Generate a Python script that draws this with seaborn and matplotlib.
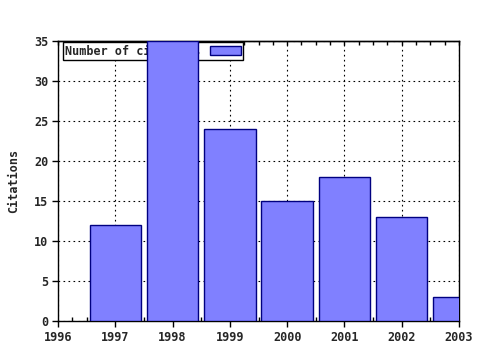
import matplotlib
matplotlib.use("Agg")
import matplotlib.pyplot as plt
import seaborn as sns
import pandas as pd
from matplotlib.ticker import MultipleLocator

years = [1997, 1998, 1999, 2000, 2001, 2002, 2003]
citations = [12, 35, 24, 15, 18, 13, 3]
series_label = "Number of citations"
xticks = [1996, 1997, 1998, 1999, 2000, 2001, 2002, 2003]
yticks = [0, 5, 10, 15, 20, 25, 30, 35]

sns.set_style("white")
plt.rcParams["font.family"] = ["DejaVu Sans Mono", "DejaVu Sans"]
plt.rcParams["font.weight"] = "bold"

df = pd.DataFrame({"year": years, "citations": citations})

fig = plt.figure(figsize=(4.8, 3.5), dpi=100)
ax = fig.add_axes([58 / 480, 1 - 321 / 350, (459 - 58) / 480, (321 - 41) / 350])

sns.barplot(data=df, x="year", y="citations", native_scale=True, width=0.9,
            color="#8080ff", edgecolor="#000080", linewidth=1, saturation=1,
            label=series_label, ax=ax)
for p in ax.patches:
    p.set_zorder(3)
    p.set_facecolor("#8080ff")

ax.set_xlim(1996, 2003)
ax.set_ylim(0, 35)
ax.set_xticks(xticks)
ax.set_xticklabels([str(x) for x in xticks])
ax.set_yticks(yticks)
ax.xaxis.set_minor_locator(MultipleLocator(0.25))
ax.set_xlabel("")
ax.set_ylabel("Citations", fontsize=8.5, fontweight="bold", labelpad=10)

for s in ax.spines.values():
    s.set_color("black")
    s.set_linewidth(1)
    s.set_visible(True)

ax.set_axisbelow(True)
ax.grid(True, which="major", color="black", linestyle=(0, (1.5, 3)), linewidth=0.8)

ax.tick_params(axis="x", which="major", bottom=True, top=False, direction="out",
               length=4, width=1, labelsize=8.5, color="black", pad=3)
ax.tick_params(axis="x", which="minor", bottom=True, top=False, direction="in",
               length=3, width=1, color="black")
ax.tick_params(axis="y", which="major", left=True, right=False, direction="out",
               length=4, width=1, labelsize=8.5, color="black", pad=3)
for lab in ax.get_xticklabels() + ax.get_yticklabels():
    lab.set_fontweight("bold")

# top axis: inward ticks, no labels
top = ax.secondary_xaxis("top")
top.set_xticks(xticks)
top.xaxis.set_minor_locator(MultipleLocator(0.25))
top.tick_params(axis="x", which="both", direction="in", length=3, width=1,
                labeltop=False, color="black")
top.spines["top"].set_linewidth(1)

leg = ax.legend(loc="upper left", bbox_to_anchor=(0.012, 0.995), markerfirst=False,
                frameon=True, fancybox=False, borderpad=0.2,
                handlelength=2.6, handletextpad=0.8, borderaxespad=0.0,
                prop={"weight": "bold", "size": 8.5})
leg.get_frame().set_edgecolor("black")
leg.get_frame().set_linewidth(1)
leg.get_frame().set_facecolor("white")
leg.get_frame().set_alpha(1)
leg.set_zorder(1)

fig.savefig("out.png", dpi=100)
